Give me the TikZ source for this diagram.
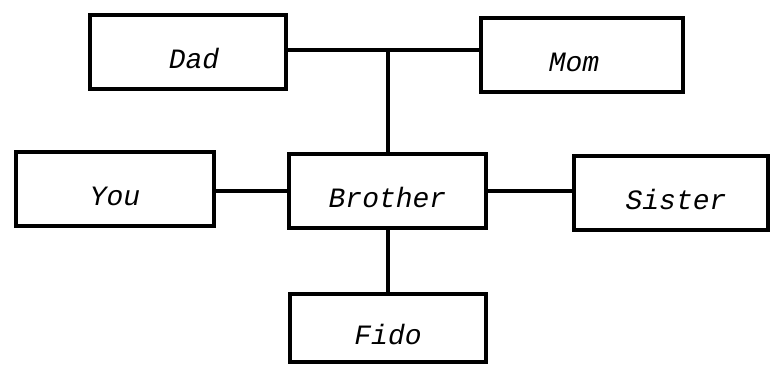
\documentclass[tikz,border=0pt]{standalone}
\usepackage{fontspec}
\setmonofont{Liberation Mono}
\begin{document}
\begin{tikzpicture}[x=1pt,y=-1pt,
  famboxstyle/.style={draw, line width=4.5pt, inner sep=0pt, minimum width=#1, minimum height=74pt,
     font=\ttfamily\itshape\fontsize{28}{28}\selectfont, text height=33pt, text depth=0pt},
  famboxstyle/.default=198pt,
  linkstyle/.style={line width=4pt}]
\useasboundingbox (0,0) rectangle (775,367);
\node[famboxstyle=196pt] (dad) at (188,52) {\hspace*{12pt}Dad};
\node[famboxstyle=202pt] (mom) at (582,55) {Mom\hspace*{16pt}};
\node[famboxstyle=198pt] (you) at (115,189) {You};
\node[famboxstyle=197pt] (brother) at (387.5,191) {Brother};
\node[famboxstyle=194pt] (sister) at (671,193) {\hspace*{10pt}Sister};
\node[famboxstyle=196pt, minimum height=68pt] (fido) at (388,328) {Fido};
\coordinate (junction) at (387.5,50);
\draw[linkstyle] (dad.east |- junction) -- (mom.west |- junction);
\draw[linkstyle] (junction) -- (brother.north);
\draw[linkstyle] (you.east |- brother.center) -- (brother.west);
\draw[linkstyle] (brother.east) -- (sister.west |- brother.center);
\draw[linkstyle] (brother.south) -- (fido.north -| brother.south);
\end{tikzpicture}
\end{document}
